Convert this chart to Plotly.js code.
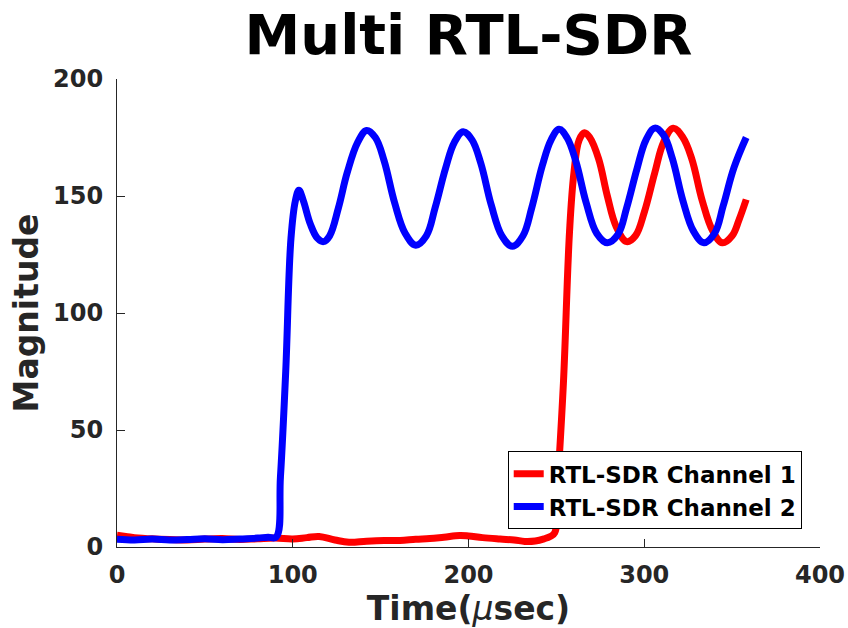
<!DOCTYPE html>
<html>
<head>
<meta charset="utf-8">
<script src="https://cdn.plot.ly/plotly-3.0.1.min.js"></script>
<style>html,body{margin:0;padding:0;background:#fff;}#chart{width:848px;height:628px;}</style>
</head>
<body>
<div id="chart"></div>
<script>
// Channel 1 (red)
const timeCh1 = [0, 5, 12, 20, 30, 40, 50, 60, 70, 80, 90, 100, 108, 115, 124, 132, 142, 152, 161, 170, 178, 186, 195, 200, 208, 218, 226, 232, 238, 243, 246.5, 249, 251, 254, 257.5, 260, 263, 266, 269, 274, 279, 284, 290, 295, 300, 306, 311, 316.5, 322, 327, 333, 339, 344.5, 350, 354, 358];
const magCh1 = [5, 4.5, 3.8, 3.5, 3.2, 3.0, 3.4, 3.6, 3.2, 3.5, 3.8, 3.4, 4.0, 4.5, 3.0, 2.0, 2.5, 2.8, 2.8, 3.3, 3.6, 4.2, 4.9, 4.7, 4.0, 3.4, 3.0, 2.4, 2.6, 3.5, 4.5, 6, 30, 70, 135, 160, 174, 177, 175, 166, 150, 137, 130.5, 133, 143, 160, 173, 179, 175, 166, 148, 135, 130, 133, 140, 148.5];

// Channel 2 (blue)
const timeCh2 = [0, 10, 20, 30, 40, 50, 60, 70, 80, 86, 90.5, 93, 96, 99, 101.5, 103.5, 106, 110, 114, 117.5, 121, 126, 131, 137, 142, 147, 152, 158, 164, 170, 176, 181, 187, 192, 197, 202, 207, 213, 219, 225, 231, 236, 242, 247, 251.5, 256, 261, 267, 273, 279, 285, 290, 296, 301, 306, 311, 316, 322, 328, 334, 340, 345, 351, 358];
const magCh2 = [3.3, 3.0, 3.4, 3.0, 3.2, 3.5, 3.1, 3.4, 3.8, 4.2, 4.2, 30, 75, 132, 148, 152.5, 148, 138, 132, 130.5, 133, 145, 160, 173, 178, 175, 165, 147, 134, 129, 133, 145, 162, 173, 177.5, 174, 164, 146, 133, 128.5, 133, 145, 163, 174, 178.5, 175, 165, 147, 134, 130, 133.5, 145, 162, 174, 179, 176, 166, 148, 135, 130, 134, 146, 162, 175];

const seriesNames = ['RTL-SDR Channel 1', 'RTL-SDR Channel 2'];
const xTicks = [0, 100, 200, 300, 400];
const yTicks = [0, 50, 100, 150, 200];

const axisColor = '#262626';
const fontFam = 'DejaVu Sans, sans-serif';

const traces = [
  {x: timeCh1, y: magCh1, name: seriesNames[0], type: 'scatter', mode: 'lines',
   line: {color: '#ff0000', width: 7, shape: 'spline', smoothing: 1.1}},
  {x: timeCh2, y: magCh2, name: seriesNames[1], type: 'scatter', mode: 'lines',
   line: {color: '#0000ff', width: 7, shape: 'spline', smoothing: 1.1}}
];

const layout = {
  width: 848, height: 628,
  paper_bgcolor: '#ffffff', plot_bgcolor: '#ffffff',
  margin: {l: 117, r: 28, t: 79, b: 81, pad: 0},
  font: {family: fontFam, color: axisColor},
  title: {text: '<b>Multi RTL-SDR</b>', font: {family: fontFam, size: 56, color: '#000000'},
          x: 0.5, xref: 'paper', xanchor: 'center', y: 0.945, yref: 'container', yanchor: 'middle'},
  xaxis: {
    range: [0, 400], tickvals: xTicks, ticktext: xTicks.map(v => '<b>' + v + '</b>'),
    ticks: 'inside', ticklen: 8, tickwidth: 1, tickcolor: axisColor,
    showline: true, linecolor: axisColor, linewidth: 1, mirror: false,
    showgrid: false, zeroline: false, ticklabelstandoff: 6,
    tickfont: {family: fontFam, size: 24, color: axisColor},
    title: {text: '<b>Time(<span style="font-weight:normal"><i>μ</i></span>sec)</b>', font: {family: fontFam, size: 33, color: axisColor}, standoff: 6}
  },
  yaxis: {
    range: [0, 200], tickvals: yTicks, ticktext: yTicks.map(v => '<b>' + v + '</b>'),
    ticks: 'inside', ticklen: 8, tickwidth: 1, tickcolor: axisColor,
    showline: true, linecolor: axisColor, linewidth: 1, mirror: false,
    showgrid: false, zeroline: false, ticklabelstandoff: 8,
    tickfont: {family: fontFam, size: 24, color: axisColor},
    title: {text: '<b>Magnitude</b>', font: {family: fontFam, size: 33, color: axisColor}, standoff: 4}
  },
  showlegend: true,
  legend: {x: 0.974, y: 0.038, xanchor: 'right', yanchor: 'bottom', xref: 'paper', yref: 'paper',
           bgcolor: '#ffffff', bordercolor: '#000000', borderwidth: 1,
           font: {family: fontFam, size: 23, color: '#000000', weight: 'bold'}, tracegroupgap: 0,
           itemwidth: 30},
};

Plotly.newPlot('chart', traces, layout, {displayModeBar: false, staticPlot: true});
</script>
</body>
</html>
